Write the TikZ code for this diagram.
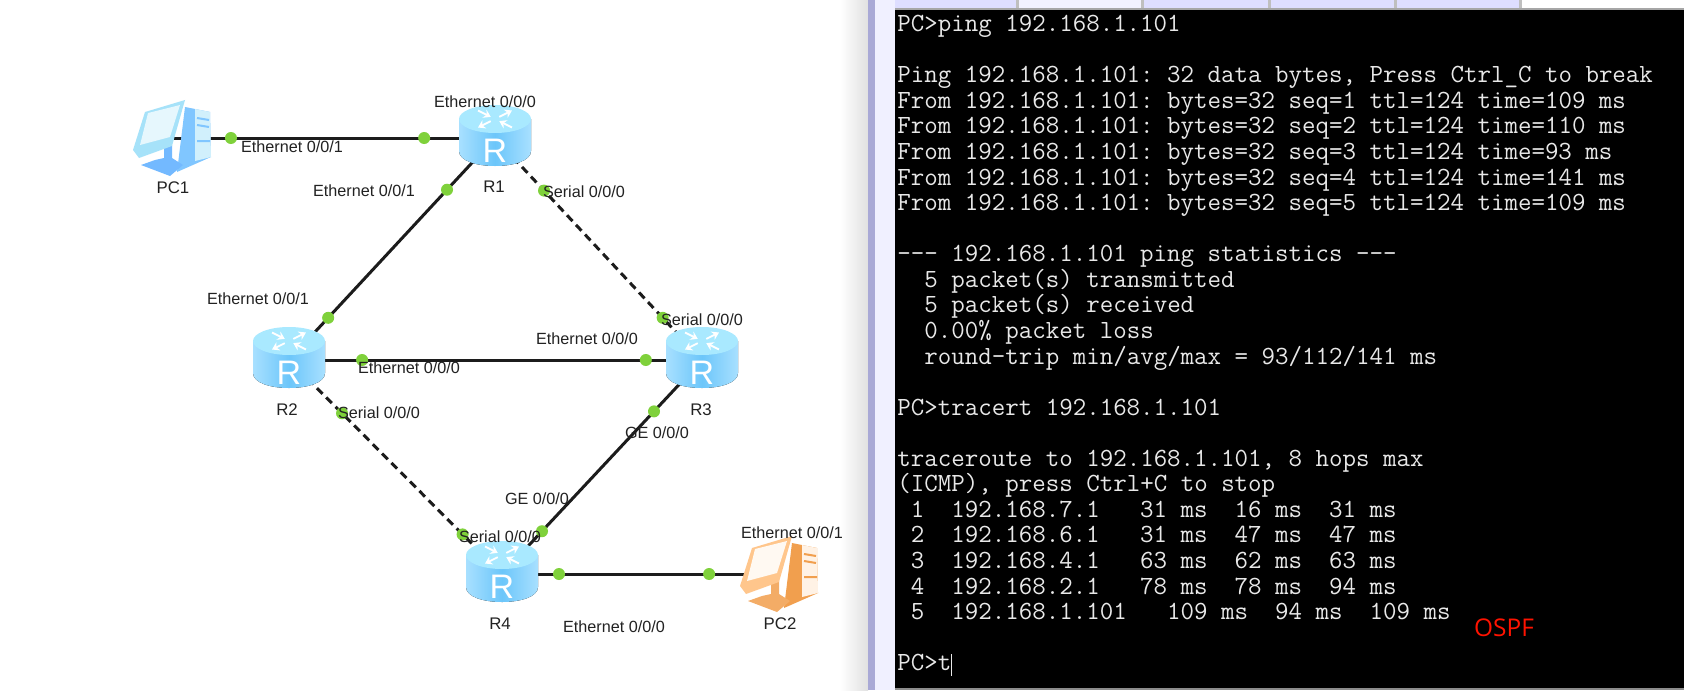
\documentclass[tikz,border=0pt]{standalone}
\usepackage{fontspec}
\setmainfont{Liberation Sans}
\newfontfamily\ospffont{Open Sans}
\usetikzlibrary{backgrounds,arrows.meta}
\definecolor{linkcol}{HTML}{1C1C1C}
\definecolor{dotcol}{HTML}{7FD13B}
\definecolor{labelcol}{HTML}{222222}
\definecolor{consolecol}{HTML}{E8E8E8}
\definecolor{routerside}{HTML}{A8E0FF}
\definecolor{routerbody}{HTML}{6CC6FA}
\definecolor{routertop}{HTML}{A9E9FF}
\tikzset{
  routernode/.style={minimum width=36pt,minimum height=30pt,inner sep=0pt},
  pcnode/.style={minimum width=40pt,minimum height=38pt,inner sep=0pt},
  portdot/.style={circle,fill=dotcol,inner sep=0pt,minimum size=6pt},
  iflabel/.style={font=\fontsize{8.1}{9}\selectfont,text=labelcol,inner sep=0pt},
  namelabel/.style={font=\fontsize{8.4}{9}\selectfont,text=labelcol,inner sep=0pt},
  etherlink/.style={draw=linkcol,line width=1.5pt},
  seriallink/.style={draw=linkcol,line width=1.5pt,dash pattern=on 4pt off 2.6pt},
  pics/routericon/.style={code={
    \fill[left color=routerside,right color=routerside,middle color=routerbody] (-36,-19) -- (-36,13) .. controls (-36,33) and (36,33) .. (36,13) -- (36,-19) -- cycle;
    \fill[routertop] (0,-19) ellipse[x radius=36,y radius=14];
    \begin{scope}[shift={(0,-19)},yscale=.5]
      \foreach \a in {45,225}
        \draw[white,line width=.9pt,-{Stealth[length=3.5pt,width=4.5pt]},rotate=\a] (6,0) -- (24,0);
      \foreach \a in {135,315}
        \draw[white,line width=.9pt,-{Stealth[length=3.5pt,width=4.5pt]},rotate=\a] (24,0) -- (6,0);
    \end{scope}
    \node[text=white,inner sep=0pt,font=\fontsize{17}{17}\selectfont] at (0,13) {R};
  }},
  pics/pcicon/.style n args={5}{code={
    % tower
    \fill[#3] (12,-31) -- (37,-26) -- (38,19) -- (4,34) -- cycle;
    \fill[#4] (22,-29) -- (37,-26) -- (38,19) -- (22,23) -- cycle;
    \draw[#3,line width=1pt] (24,-20) -- (36,-18) (24,-13) -- (36,-11) (24,3) -- (37,3);
    % stand
    \fill[#5] (-32,27) -- (-18,22) -- (-9,20) -- (-9,9) -- (-1,7) -- (-1,20) -- (10,27) -- (-3,38) -- cycle;
    % monitor
    \fill[#1] (-40,12) -- (-28,-26) -- (12,-38) -- (-1,8) -- (-34,20) -- cycle;
    \fill[#2] (-33,7) -- (-25,-25) -- (7,-33) -- (-3,-1) -- cycle;
  }}
}
\begin{document}
\begin{tikzpicture}[x=0.5pt,y=-0.5pt]
  \useasboundingbox (0,0) rectangle (1684,690);

  % devices
  \node[pcnode] (PC1) at (173,138) {};
  \node[routernode] (R1) at (495,138) {};
  \node[routernode] (R2) at (289,360) {};
  \node[routernode] (R3) at (702,360) {};
  \node[routernode] (R4) at (502,574) {};
  \node[pcnode] (PC2) at (780,574) {};
  \pic at (R1) {routericon};
  \pic at (R2) {routericon};
  \pic at (R3) {routericon};
  \pic at (R4) {routericon};
  \pic at (PC1) {pcicon={cyan!35!white}{cyan!10!white}{blue!45!cyan!50!white}{cyan!18!white}{blue!50!cyan!55!white}};
  \pic at (PC2) {pcicon={orange!45!white}{orange!5!white}{orange!70!brown!75!white}{orange!10!white}{orange!70!brown!65!white}};

  % window behind, links over it
  \begin{scope}[on background layer]
    \fill[white] (0,0) rectangle (1684,690);
    \fill[left color=white,right color=black!12] (840,0) rectangle (868,690);
    \fill[blue!35!gray!50] (868,0) rectangle (875,690);
    \fill[blue!6] (875,0) rectangle (895,690);
    \fill[black] (895,10) rectangle (1684,688);
    \fill[black!45] (895,688) rectangle (1684,690);
    \fill[blue!13] (895,0) rectangle (1519,8);
    \fill[black!35] (895,8) rectangle (1684,10);
    \fill[blue!5] (1019,0) rectangle (1141,8);
    \foreach \x in {1016,1141,1268,1394,1519}
      \fill[black!25] (\x,0) rectangle +(3,8);
    \draw[etherlink] (PC1.center) -- node[portdot,pos=.18] (d1) {} node[portdot,pos=.78] (d2) {} (R1.center);
    \draw[etherlink] (R1.center) -- node[portdot,pos=.233] (d3) {} node[portdot,pos=.81] (d4) {} (R2.center);
    \draw[seriallink] (R1.center) -- node[portdot,pos=.237] (d5) {} node[portdot,pos=.81] (d6) {} (R3.center);
    \draw[etherlink] (R2.center) -- node[portdot,pos=.177] (d7) {} node[portdot,pos=.864] (d8) {} (R3.center);
    \draw[seriallink] (R2.center) -- node[portdot,pos=.249] (d9) {} node[portdot,pos=.815] (d10) {} (R4.center);
    \draw[etherlink] (R3.center) -- node[portdot,pos=.24] (d11) {} node[portdot,pos=.80] (d12) {} (R4.center);
    \draw[etherlink] (R4.center) -- node[portdot,pos=.205] (d13) {} node[portdot,pos=.745] (d14) {} (PC2.center);
  \end{scope}

  % device names
  \node[namelabel] (nPC1) at (173,188) {PC1};
  \node[namelabel] (nR1) at (494,187) {R1};
  \node[namelabel] (nR2) at (287,410) {R2};
  \node[namelabel] (nR3) at (701,410) {R3};
  \node[namelabel] (nR4) at (500,624) {R4};
  \node[namelabel] (nPC2) at (780,624) {PC2};

  % interface labels
  \node[iflabel] (l1) at (292,147) {Ethernet 0/0/1};
  \node[iflabel] (l2) at (485,102) {Ethernet 0/0/0};
  \node[iflabel] (l3) at (364,191) {Ethernet 0/0/1};
  \node[iflabel] (l4) at (258,299) {Ethernet 0/0/1};
  \node[iflabel] (l5) at (584,192) {Serial 0/0/0};
  \node[iflabel] (l6) at (702,320) {Serial 0/0/0};
  \node[iflabel] (l7) at (587,339) {Ethernet 0/0/0};
  \node[iflabel] (l8) at (409,368) {Ethernet 0/0/0};
  \node[iflabel] (l9) at (379,413) {Serial 0/0/0};
  \node[iflabel] (l10) at (657,433) {GE 0/0/0};
  \node[iflabel] (l11) at (537,499) {GE 0/0/0};
  \node[iflabel] (l12) at (500,537) {Serial 0/0/0};
  \node[iflabel] (l13) at (792,533) {Ethernet 0/0/1};
  \node[iflabel] (l14) at (614,627) {Ethernet 0/0/0};

  % console
  \node[anchor=north west,inner sep=0pt,text=consolecol,align=left,font=\ttfamily\frenchspacing\addfontfeature{FakeBold=0.4}\fontsize{13.1}{12.78}\selectfont] (console) at (897,15) {%
PC>ping 192.168.1.101\\
~\\
Ping 192.168.1.101: 32 data bytes, Press Ctrl\_C to break\\
From 192.168.1.101: bytes=32 seq=1 ttl=124 time=109 ms\\
From 192.168.1.101: bytes=32 seq=2 ttl=124 time=110 ms\\
From 192.168.1.101: bytes=32 seq=3 ttl=124 time=93 ms\\
From 192.168.1.101: bytes=32 seq=4 ttl=124 time=141 ms\\
From 192.168.1.101: bytes=32 seq=5 ttl=124 time=109 ms\\
~\\
--{}- 192.168.1.101 ping statistics --{}-\\
~~5 packet(s) transmitted\\
~~5 packet(s) received\\
~~0.00\% packet loss\\
~~round-trip min/avg/max = 93/112/141 ms\\
~\\
PC>tracert 192.168.1.101\\
~\\
traceroute to 192.168.1.101, 8 hops max\\
(ICMP), press Ctrl+C to stop\\
~1~~192.168.7.1~~~31 ms~~16 ms~~31 ms\\
~2~~192.168.6.1~~~31 ms~~47 ms~~47 ms\\
~3~~192.168.4.1~~~63 ms~~62 ms~~63 ms\\
~4~~192.168.2.1~~~78 ms~~78 ms~~94 ms\\
~5~~192.168.1.101~~~109 ms~~94 ms~~109 ms\\
~\\
PC>t\rule[-2.5pt]{0.5pt}{11pt}};
  \node[text=red!85!orange,inner sep=0pt,font=\ospffont\fontsize{12.2}{14}\selectfont] (ospf) at (1504,628) {OSPF};
\end{tikzpicture}
\end{document}
